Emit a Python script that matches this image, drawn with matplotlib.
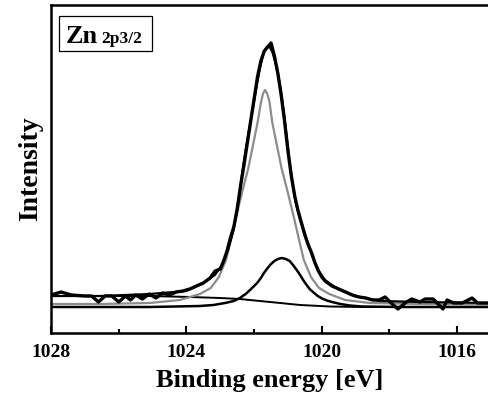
"""Zn 2p3/2 XPS spectrum with fitted components."""
import matplotlib
matplotlib.use("Agg")
import matplotlib.pyplot as plt
from matplotlib.patches import Rectangle

# ---- measured spectrum (binding energy eV, intensity a.u.) ----
data_e = [1028.0, 1027.8, 1027.7, 1027.4, 1027.0, 1026.8, 1026.6, 1026.4, 1026.2, 1026.0,
          1025.8, 1025.65, 1025.5, 1025.3, 1025.1, 1024.9, 1024.7, 1024.5, 1024.3, 1024.1,
          1023.9, 1023.7, 1023.5, 1023.3, 1023.15, 1023.0, 1022.9, 1022.8, 1022.7, 1022.6,
          1022.5, 1022.4, 1022.3, 1022.2, 1022.1, 1022.0, 1021.9, 1021.8, 1021.7, 1021.6,
          1021.5, 1021.4, 1021.3, 1021.2, 1021.1, 1021.0, 1020.9, 1020.8, 1020.7, 1020.6,
          1020.5, 1020.4, 1020.3, 1020.2, 1020.1, 1020.0, 1019.9, 1019.7, 1019.5, 1019.3,
          1019.1, 1018.9, 1018.7, 1018.5, 1018.3, 1018.13, 1017.95, 1017.75, 1017.5, 1017.34,
          1017.1, 1016.95, 1016.71, 1016.42, 1016.3, 1016.1, 1015.85, 1015.56, 1015.4, 1015.09]
data_i = [38, 40, 41, 38, 37, 37, 31, 37, 37, 31,
          37, 33, 38, 34, 39, 35, 40, 38, 41, 42,
          44, 47, 50, 55, 62, 64, 72, 82, 95, 106,
          124, 147, 168, 190, 212, 234, 256, 272, 282, 286,
          290, 277, 260, 238, 212, 182, 157, 137, 122, 110,
          98, 88, 80, 70, 62, 56, 52, 47, 44, 41,
          38, 36, 35, 33, 33, 36, 30, 24, 31, 34,
          31, 34, 34, 24, 33, 30, 30, 35, 30, 30]

# ---- total fit envelope ----
fit_e = [1028.0, 1026.55, 1025.08, 1024.01, 1023.45, 1023.16, 1022.95, 1022.77, 1022.62, 1022.51,
         1022.42, 1022.33, 1022.24, 1022.15, 1022.03, 1021.92, 1021.82, 1021.72, 1021.62, 1021.54,
         1021.46, 1021.38, 1021.29, 1021.20, 1021.12, 1021.03, 1020.94, 1020.85, 1020.76, 1020.66,
         1020.56, 1020.41, 1020.26, 1020.11, 1019.91, 1019.70, 1019.52, 1019.02, 1018.28, 1017.10,
         1015.09]
fit_i = [37, 37, 39, 42, 51, 58, 68, 83, 101, 121,
         143, 165, 185, 203, 226, 248, 266, 280, 286, 286,
         281, 272, 258, 240, 220, 194, 168, 146, 129, 116,
         105, 90, 75, 63, 53, 48, 44, 37, 32, 31,
         30]

# ---- main component (grey) ----
comp1_e = [1028.0, 1026.55, 1025.08, 1024.19, 1023.60, 1023.28, 1023.04, 1022.83, 1022.71, 1022.54,
           1022.36, 1022.17, 1022.05, 1021.90, 1021.80, 1021.74, 1021.68, 1021.62, 1021.55, 1021.46,
           1021.31, 1021.19, 1021.00, 1020.82, 1020.65, 1020.53, 1020.32, 1020.08, 1019.78, 1019.31,
           1018.58, 1017.10, 1015.09]
comp1_i = [29, 29, 30, 33, 39, 45, 56, 73, 90, 115,
           140, 165, 185, 210, 230, 239, 243, 240, 232, 210,
           185, 165, 140, 115, 90, 73, 56, 45, 39, 33,
           30, 29, 28]

# ---- second component (small peak) ----
comp2_e = [1028.0, 1025.08, 1023.60, 1023.20, 1022.86, 1022.60, 1022.42, 1022.25, 1022.12, 1022.00,
           1021.91, 1021.80, 1021.71, 1021.60, 1021.50, 1021.40, 1021.30, 1021.18, 1021.06, 1020.95,
           1020.85, 1020.74, 1020.64, 1020.55, 1020.47, 1020.36, 1020.26, 1020.12, 1019.99, 1019.85,
           1019.70, 1019.45, 1019.17, 1018.80, 1017.69, 1015.09]
comp2_i = [26, 26, 27, 28, 30, 32, 35, 39, 43, 47,
           50, 55, 60, 65, 69, 72, 74, 75, 74, 72,
           68, 63, 58, 53, 49, 44, 41, 37, 34.5, 32.5,
           31, 29, 27.5, 26.5, 26, 26]

# ---- background ----
bg_e = [1028.0, 1025.08, 1023.89, 1023.01, 1022.42, 1021.83, 1021.23, 1020.64, 1019.76, 1018.87, 1015.09]
bg_i = [37, 37, 36, 35, 34, 32, 30, 28, 26.5, 26, 26]

SERIF = "Liberation Serif"
INK = "black"
GREY = "#8c8c8c"

fig = plt.figure(figsize=(4.88, 4.0), dpi=100)
ax = fig.add_axes([51 / 488, 67 / 400, 1 - 51 / 488, 328 / 400])

ax.plot(bg_e, bg_i, color=INK, linewidth=1.4)
ax.plot(comp2_e, comp2_i, color=INK, linewidth=1.8)
ax.plot(comp1_e, comp1_i, color=GREY, linewidth=1.6)
ax.plot(data_e, data_i, color=INK, linewidth=2.4)
ax.plot(fit_e, fit_i, color=INK, linewidth=1.6)

ax.set_xlim(1028, 1015.09)
ax.set_ylim(0, 328)
ax.set_yticks([])
ax.set_xticks([1028, 1024, 1020, 1016])
ax.set_xticks([1026, 1022, 1018], minor=True)
ax.tick_params(axis="x", which="major", direction="in", length=5, width=1.5,
               labelsize=14, pad=8)
ax.tick_params(axis="x", which="minor", direction="in", length=3, width=1.5)
for lab in ax.get_xticklabels():
    lab.set_fontfamily(SERIF)
    lab.set_fontweight("bold")

for side in ["left", "bottom", "top"]:
    ax.spines[side].set_linewidth(1.8)
ax.spines["right"].set_visible(False)

ax.set_xlabel("Binding energy [eV]", fontsize=19, fontweight="bold",
              family=SERIF, labelpad=6)
ax.set_ylabel("Intensity", fontsize=20, fontweight="bold", family=SERIF, labelpad=6)

# label box "Zn 2p3/2"
fig.patches.append(Rectangle((59 / 488, 1 - 51 / 400), 93 / 488, 35 / 400,
                             transform=fig.transFigure, fill=False,
                             edgecolor=INK, linewidth=0.9))
fig.text(66 / 488, 1 - 43 / 400, "Zn", fontsize=19, fontweight="bold",
         family=SERIF, va="baseline")
fig.text(101 / 488, 1 - 43 / 400, "2p3/2", fontsize=12.5, fontweight="bold",
         family=SERIF, va="baseline")

fig.savefig("out.png", dpi=100)
